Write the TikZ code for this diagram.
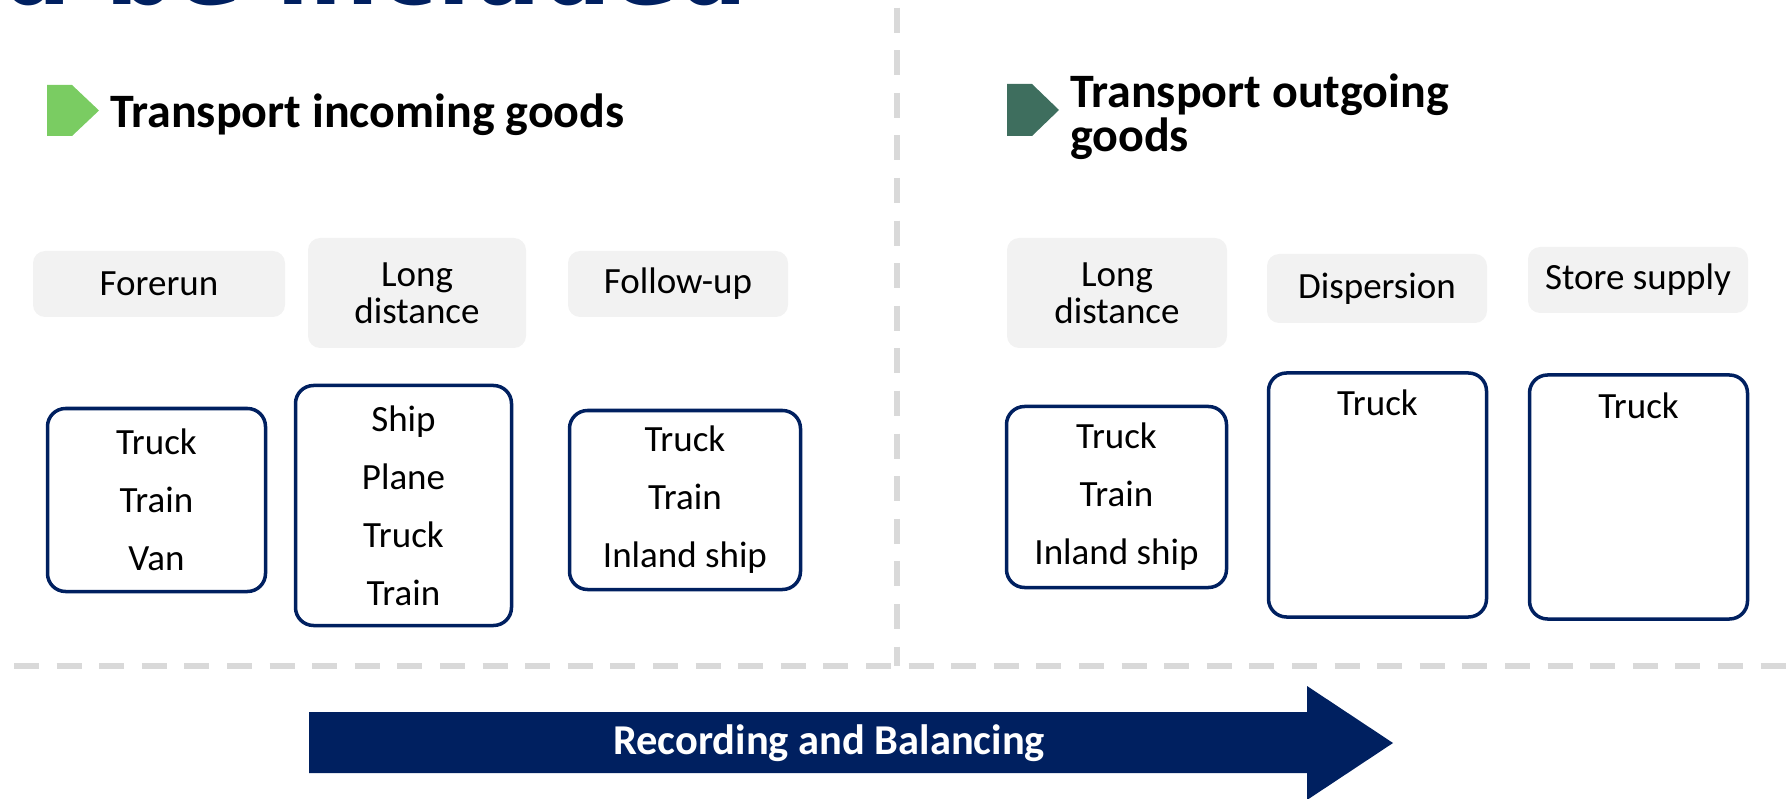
\documentclass[tikz,border=0pt]{standalone}
\usepackage{fontspec}
\setmainfont{Carlito}
\newfontfamily\titelfont{DejaVu Sans}
\usepackage{xcolor}
\definecolor{cMarinho}{HTML}{002060}
\definecolor{cGrau}{HTML}{F2F2F2}
\definecolor{cCinza}{HTML}{D9D9D9}
\definecolor{cVerdeCl}{HTML}{7ACC62}
\definecolor{cVerdeEsc}{HTML}{3E6E5E}

\begin{document}
\begin{tikzpicture}[
  x=1pt,y=1pt,
  fase/.style={fill=cGrau,rounded corners=12pt,align=center,inner sep=0pt,
               minimum width=220pt,minimum height=66pt,
               font=\fontsize{37}{37}\selectfont},
  modos/.style={draw=cMarinho,fill=white,line width=3.5pt,rounded corners=18pt,
                align=center,inner sep=0pt,font=\fontsize{37}{58}\selectfont},
  modotopo/.style={modos,text height=26pt,text depth=184pt,inner ysep=17pt},
  cab/.style={font=\bfseries\fontsize{48}{44}\selectfont,align=left,inner sep=0pt},
  divisa/.style={draw=cCinza,line width=6pt,dash pattern=on 25pt off 17.6pt}
]
\useasboundingbox (0,0) rectangle (1791,-799);

% ---- titulo (cortado no topo)
\node[anchor=base east,inner sep=0pt,text=cMarinho,
      font=\titelfont\bfseries\fontsize{98}{98}\selectfont] (titulo) at (748,-4.5)
      {and be included};

% ---- divisorias
\draw[divisa] (897,-7.6) -- (897,-666);
\draw[divisa] (14,-666) -- (1791,-666);

% ---- cabecalhos
\fill[cVerdeCl]  (47,-85) -- (72,-85) -- (99,-110.5) -- (72,-136) -- (47,-136) -- cycle;
\fill[cVerdeEsc] (1007,-84) -- (1032,-84) -- (1059,-110) -- (1032,-136) -- (1007,-136) -- cycle;
\node[cab,anchor=base west] (hE) at (110,-128) {Transport incoming goods};
\node[cab,anchor=west]      (hS) at (1070,-117) {Transport outgoing\\ goods};

% ---- fases entrada
\node[fase,minimum width=252pt] (fFore) at (159,-284) {Forerun};
\node[fase,minimum width=218pt,minimum height=110pt] (fLongE) at (417,-293) {Long\\ distance};
\node[fase] (fFollow) at (678,-284) {Follow-up};

% ---- fases saida
\node[fase,minimum height=110pt] (fLongS) at (1117,-293) {Long\\ distance};
\node[fase,minimum height=69pt] (fDisp) at (1377,-288.5) {Dispersion};
\node[fase] (fStore) at (1638,-280) {Store supply};

% ---- modos de transporte
\node[modos,minimum width=218pt,minimum height=183pt] (mFore) at (156.5,-500) {Truck\\ Train\\ Van};
\node[modos,minimum width=216pt,minimum height=240pt] (mLongE) at (403.5,-505.5) {Ship\\ Plane\\ Truck\\ Train};
\node[modos,minimum width=231pt,minimum height=179pt] (mFollow) at (685,-500) {Truck\\ Train\\ Inland ship};
\node[modos,minimum width=220pt,minimum height=181pt] (mLongS) at (1116.5,-497) {Truck\\ Train\\ Inland ship};
\node[modotopo,minimum width=218pt,minimum height=241pt] (mDisp) at (1377.5,-495) {Truck};
\node[modotopo,minimum width=218pt,minimum height=241pt] (mStore) at (1638.5,-497) {Truck};

% ---- seta de registro
\fill[cMarinho] (309,-712) -- (1307,-712) -- (1307,-686) -- (1393,-743)
      -- (1307,-800) -- (1307,-773) -- (309,-773) -- cycle;
\node[font=\bfseries\fontsize{42.5}{42}\selectfont,text=white] (rec) at (829,-743)
      {Recording and Balancing};
\end{tikzpicture}
\end{document}
